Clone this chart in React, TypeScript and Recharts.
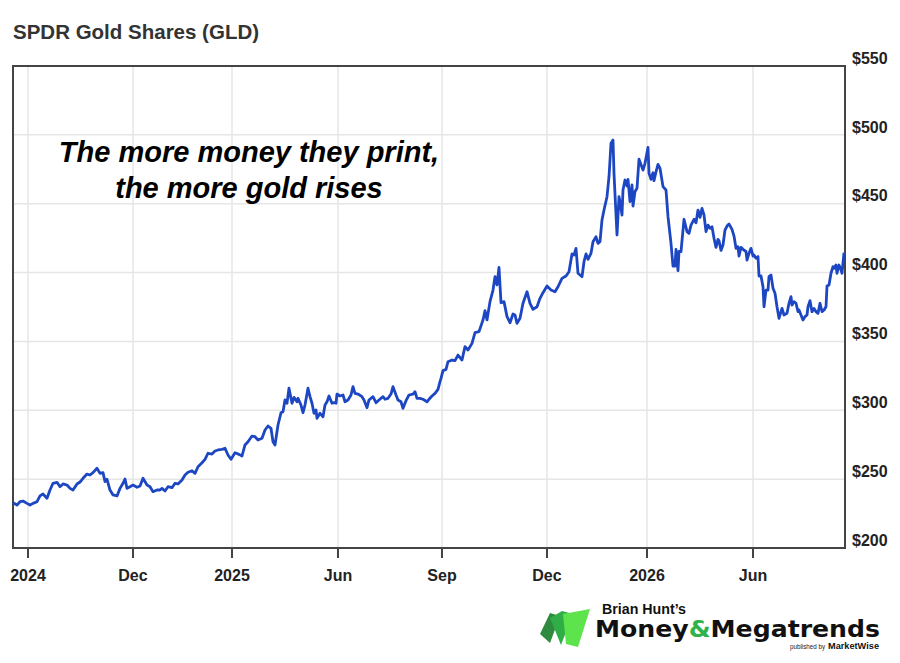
import React from 'react';
import { LineChart, Line, XAxis, YAxis, CartesianGrid, ReferenceArea } from 'recharts';

// [trading day, close] pairs
const late2024: [number, number][] = [
  [0, 232.9], [4, 231.2], [7, 233.6], [10, 234.1], [14, 232.4], [17, 231.2], [20, 232.4], [24, 233.6],
  [27, 237.8], [30, 239.2], [34, 236.1], [37, 242.1], [40, 247], [44, 247.7], [47, 244.5], [50, 246.5],
  [54, 245.7], [57, 243.3], [60, 242.1], [64, 246.5], [67, 247.9], [70, 250.6], [74, 253.7], [77, 253],
  [80, 254.7], [84, 257.9], [87, 254.2], [90, 254.7], [92, 248.2], [94, 249.9], [97, 242.1], [100, 238.5],
  [104, 237.8], [107, 243.3], [110, 247], [112, 250.1], [114, 243.3], [117, 244.5], [120, 245.7], [124, 244.1],
  [127, 245], [130, 250.6], [134, 245.7], [137, 244.5], [140, 240.9], [144, 242.1], [147, 242.1], [149, 243.3],
  [152, 241.4], [155, 244.5], [159, 243.8], [162, 247], [165, 246.5], [169, 249.4], [172, 253], [175, 255],
  [179, 256.1], [182, 254.2], [185, 259], [189, 261.9], [192, 264.4], [195, 268.8], [199, 268.2], [202, 270.4],
  [205, 271.2], [209, 271.7], [212, 272.4], [215, 267.5], [218, 264.4], [222, 269.2], [226, 268],
];

const early2025: [number, number][] = [
  [229, 266.8], [232, 274.8], [235, 277.2], [239, 281.3], [242, 280.8], [245, 278.4], [249, 279.7], [252, 285.7],
  [255, 288.6], [258, 286.9], [260, 277.2], [262, 274.8], [265, 289.3], [268, 298.2], [270, 299], [272, 307.5],
  [274, 305.1], [276, 316], [279, 305.1], [281, 309.4], [284, 306.2], [285, 308.7], [288, 303.8], [290, 298.2],
  [292, 303.8], [295, 316], [297, 309.9], [299, 305.1], [301, 297.8], [303, 300.2], [304, 294.2], [307, 297.8],
  [310, 295.3], [312, 303.8], [314, 306.2], [316, 310.4], [319, 305.1], [321, 305.5], [323, 305.1], [324, 311.8],
  [327, 310.4], [330, 311.1], [332, 306.2], [335, 307.5], [338, 311.1], [340, 317.2], [342, 312.3], [345, 311.8],
  [349, 309.9], [351, 307.5], [354, 301.9], [356, 307.5], [360, 309.9], [363, 305.5], [366, 307.5], [370, 309.9],
  [372, 308], [375, 308.7], [378, 311.8], [380, 317.2], [383, 311.1], [385, 307.5], [388, 306.2], [390, 301.4],
  [393, 307], [396, 311.1], [400, 311.8], [402, 313.5], [404, 308.7], [407, 308.7], [410, 308], [414, 306.2],
  [416, 308], [419, 310.4], [422, 312.3], [425, 315.2], [427, 320.8],
];

const late2025: [number, number][] = [
  [428, 323.2], [430, 328.8], [433, 329.7], [435, 335.3], [439, 336.5], [442, 336], [445, 340.1], [449, 336.5],
  [452, 346.2], [455, 343.8], [459, 348.6], [462, 356.4], [466, 357.1], [470, 365.6], [472, 372.3], [474, 365.6],
  [477, 378.9], [480, 387.3], [482, 397], [484, 391], [486, 403.8], [488, 378.1], [491, 378.9], [494, 368],
  [497, 363.6], [500, 369.9], [502, 369.2], [504, 363.1], [507, 366.8], [510, 377.7], [514, 386.1], [517, 377.7],
  [520, 373.3], [524, 375.2], [527, 381.3], [530, 385.4], [534, 390.2], [538, 387.3], [542, 386.1], [545, 389.7],
  [549, 395.8], [553, 397.5], [556, 400.6], [559, 413.5], [561, 412.8], [563, 417.6], [565, 399.5], [569, 397],
  [571, 407.9], [573, 413.5], [575, 409.6], [578, 414], [580, 422.4], [583, 426], [585, 421.2], [587, 422.4],
  [589, 438.2], [591, 445.4], [594, 455.1], [596, 469.6], [598, 493.9], [600, 496.2], [601, 472], [604, 427.3],
  [606, 455.1], [607, 451.5], [609, 441.8], [610, 460], [612, 467.2], [614, 462.9], [615, 467.7], [617, 451.5],
  [619, 463.6], [620, 448.3], [622, 458.8], [624, 461.2], [626, 482.3],
];

const year2026: [number, number][] = [
  [630, 474.4], [632, 479.3], [635, 490.9], [636, 472], [638, 467.7], [640, 472.5], [641, 466.7], [643, 473.2],
  [645, 478.6], [647, 475.7], [650, 462.4], [653, 460], [655, 440.6], [658, 421.2], [660, 404.7], [662, 404.7],
  [663, 416.9], [665, 401.4], [666, 415.3], [668, 415.3], [670, 430.9], [671, 438.7], [674, 429.7], [676, 428.5],
  [678, 434.5], [681, 438.7], [683, 436.2], [685, 445.4], [687, 440.1], [689, 446.6], [691, 441.8], [693, 429.7],
  [695, 434.5], [697, 432.1], [699, 433.3], [701, 424.9], [703, 418.3], [705, 424.1], [706, 423.1], [708, 416.1],
  [710, 420], [712, 430.9], [714, 433.8], [716, 435.3], [719, 431.4], [721, 426.5], [723, 417.6], [725, 418.8],
  [726, 412], [728, 418.3], [730, 416.9], [733, 415.3], [734, 409.1], [736, 414], [738, 417.6], [740, 412],
  [741, 412.8], [743, 410.4], [745, 411.6], [746, 397.5], [748, 397.5], [750, 389.7], [751, 375.2], [753, 387.3],
  [755, 387.3], [756, 397], [758, 398.2], [760, 388.6], [762, 385], [764, 375.2], [766, 366.8], [768, 371.6],
  [769, 374], [771, 369.2], [774, 370.4], [776, 377.7], [778, 382.5], [779, 376.4], [781, 378.9], [783, 377.7],
  [785, 371.6], [786, 372.8], [788, 369.2], [790, 365.6], [792, 368], [794, 369.2], [795, 375.2], [797, 379.6],
  [799, 371.6], [801, 374], [803, 371.6], [805, 370.4], [807, 377.7], [809, 371.6], [811, 372.8], [813, 375.2],
  [814, 390.2], [816, 391], [818, 399.5], [820, 404.3], [821, 403.1], [823, 405.5], [824, 399.5], [826, 405.5],
  [828, 401.9], [829, 399.5], [831, 414.4],
];

const xTickDays = [15, 120, 219, 325, 429, 534, 634, 740];
const xTickLabels = ['2024', 'Dec', '2025', 'Jun', 'Sep', 'Dec', '2026', 'Jun'];
const yTicks = [200, 250, 300, 350, 400, 450, 500, 550];

const data = [...late2024, ...early2025, ...late2025, ...year2026].map(([day, close]) => ({ day, close }));

const font = '"Liberation Sans", Arial, Helvetica, sans-serif';

const XTick = (props: any) => {
  const { x, y, payload } = props;
  const label = xTickLabels[xTickDays.indexOf(payload.value)];
  return (
    <text x={x} y={y} dy="0.71em" textAnchor="middle" fontFamily={font} fontSize={16} fontWeight="bold" fill="#222">
      {label}
    </text>
  );
};

const YTick = (props: any) => {
  const { x, y, payload } = props;
  return (
    <text x={x} y={y - 8} dy="0.355em" textAnchor="start" fontFamily={font} fontSize={16} fontWeight="bold" fill="#222">
      ${payload.value}
    </text>
  );
};

const Logo = () => (
  <g>
    <polygon points="540,634 550,613 560,616 550,643" fill="#2e8a3c" />
    <polygon points="550,618 562,611 573,614 561,645" fill="#2fae48" />
    <polygon points="563,614 590,609 578,647 566,644" fill="#5de34c" />
    <text x={602} y={614} fontFamily={font} fontSize={14} fontWeight="bold" fill="#111" textLength={84} lengthAdjust="spacingAndGlyphs">
      Brian Hunt’s
    </text>
    <text x={595} y={637} fontFamily='"DejaVu Sans", sans-serif' fontSize={23} fontWeight="bold" fill="#111" textLength={285} lengthAdjust="spacingAndGlyphs">
      Money<tspan fill="#2db34a">&amp;</tspan>Megatrends
    </text>
    <text x={790} y={649} fontFamily={font} fontSize={6.5} fill="#222" textLength={35} lengthAdjust="spacingAndGlyphs">
      published by
    </text>
    <text x={828} y={649} fontFamily={font} fontSize={9} fontWeight="bold" fill="#111" textLength={51} lengthAdjust="spacingAndGlyphs">
      MarketWise
    </text>
  </g>
);

export default function App() {
  return (
    <div style={{ position: 'fixed', left: 0, top: 0, width: 900, height: 663, background: '#fff' }}>
      <div style={{ position: 'absolute', left: 0, top: 0 }}>
        <LineChart width={900} height={600} data={data} margin={{ top: 66, right: 0, bottom: 12, left: 13 }}>
          <CartesianGrid stroke="#e6e6e6" strokeWidth={1.5} />
          <XAxis
            dataKey="day"
            type="number"
            domain={[0, 832]}
            ticks={xTickDays}
            interval={0}
            height={40}
            axisLine={false}
            tickLine={{ stroke: '#444', strokeWidth: 2 }}
            tickSize={10}
            tickMargin={12}
            tick={<XTick />}
          />
          <YAxis
            orientation="right"
            type="number"
            domain={[200, 550]}
            ticks={yTicks}
            interval={0}
            width={55}
            axisLine={false}
            tickLine={false}
            tickSize={0}
            tickMargin={7}
            tick={<YTick />}
          />
          <ReferenceArea x1={0} x2={832} y1={200} y2={550} fill="none" stroke="#444" strokeWidth={2} ifOverflow="extendDomain" />
          <Line
            type="linear"
            dataKey="close"
            stroke="#1d46c2"
            strokeWidth={2.8}
            strokeLinejoin="round"
            dot={false}
            isAnimationActive={false}
          />
        </LineChart>
      </div>
      <svg width={900} height={663} style={{ position: 'absolute', left: 0, top: 0, pointerEvents: 'none' }}>
        <text x={13} y={39} fontFamily={font} fontSize={20.5} fontWeight="bold" fill="#333">
          SPDR Gold Shares (GLD)
        </text>
        <text x={249} y={162} textAnchor="middle" fontFamily={font} fontSize={29} fontWeight="bold" fontStyle="italic" fill="#000">
          The more money they print,
        </text>
        <text x={249} y={198} textAnchor="middle" fontFamily={font} fontSize={29} fontWeight="bold" fontStyle="italic" fill="#000">
          the more gold rises
        </text>
        <Logo />
      </svg>
    </div>
  );
}
